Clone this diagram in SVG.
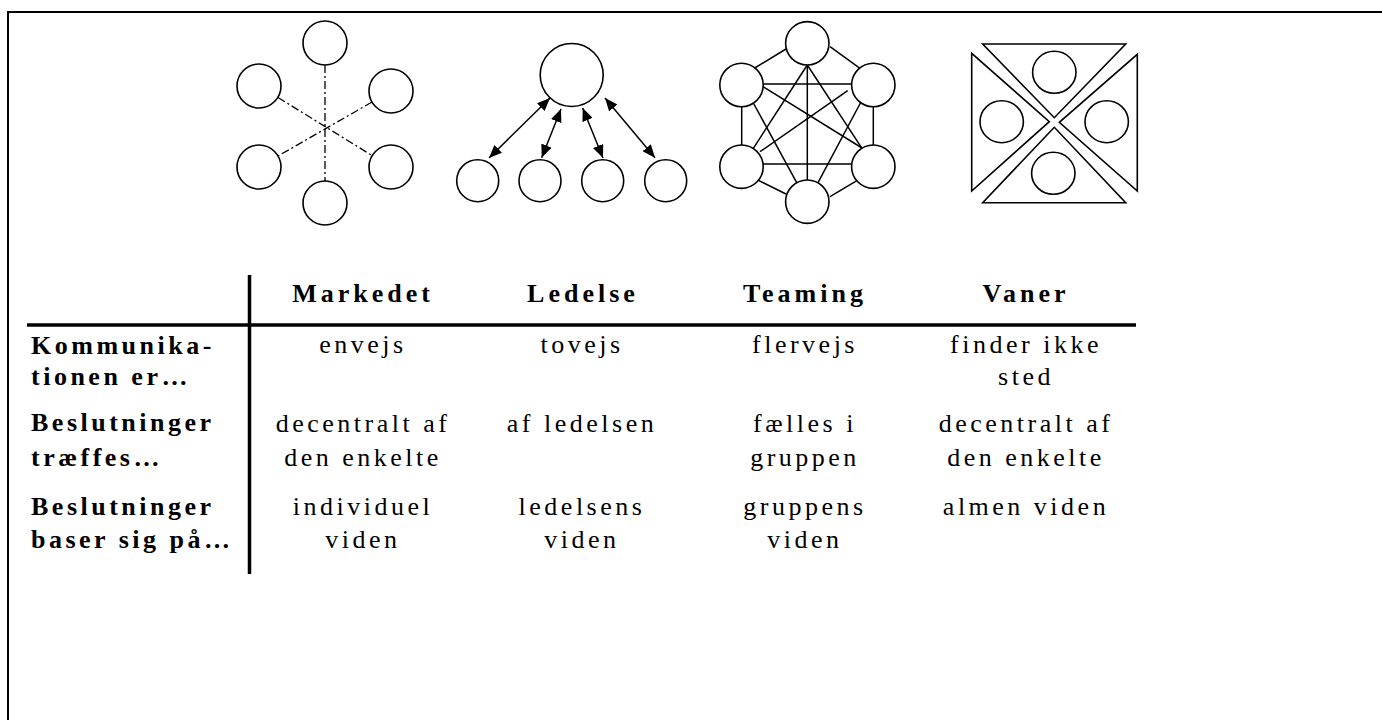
<svg xmlns="http://www.w3.org/2000/svg" width="1382" height="720" viewBox="0 0 1382 720">
  <style>
    .frame { fill: none; stroke: #000; stroke-width: 2; }
    .node { fill: #fff; stroke: #000; stroke-width: 1.6; }
    .tri { fill: none; stroke: #000; stroke-width: 1.6; stroke-linejoin: miter; }
    .edge { fill: none; stroke: #000; stroke-width: 1.5; }
    .dashdot { fill: none; stroke: #000; stroke-width: 1.3; stroke-dasharray: 8 3 2 3; }
    .arrow { fill: none; stroke: #000; stroke-width: 1.5; marker-start: url(#head); marker-end: url(#head); }
    .rule { stroke: #000; stroke-width: 3.5; }
    text { font-family: "Liberation Serif", "Times New Roman", serif; font-size: 26px; fill: #000; }
    .head { font-weight: bold; letter-spacing: 4px; text-anchor: middle; }
    .label { font-weight: bold; letter-spacing: 3.5px; }
    .cell { letter-spacing: 3.5px; text-anchor: middle; }
  </style>
  <defs>
    <marker id="head" viewBox="0 0 13 11" refX="13" refY="5.5" markerWidth="13" markerHeight="11" markerUnits="userSpaceOnUse" orient="auto-start-reverse">
      <path d="M0,0 L13,5.5 L0,11 z" fill="#000"/>
    </marker>
  </defs>

  <rect width="1382" height="720" fill="#fff"/>

  <!-- page frame: top and left edges -->
  <path class="frame" d="M8,720 L8,12 L1382,12"/>

  <!-- Markedet: star with dash-dot spokes -->
  <g id="markedet">
    <g id="markedet-connectors">
      <line class="dashdot" x1="325" y1="65" x2="325" y2="181"/>
      <line class="dashdot" x1="278" y1="97.5" x2="372" y2="155.5"/>
      <line class="dashdot" x1="372" y1="102" x2="278" y2="156"/>
    </g>
    <circle id="m-top" class="node" cx="325" cy="43" r="22"/>
    <circle id="m-ul" class="node" cx="259" cy="86" r="22"/>
    <circle id="m-ur" class="node" cx="391" cy="91" r="22"/>
    <circle id="m-ll" class="node" cx="259" cy="167" r="22"/>
    <circle id="m-lr" class="node" cx="391" cy="167" r="22"/>
    <circle id="m-bot" class="node" cx="325" cy="203" r="22"/>
  </g>

  <!-- Ledelse: leader with two-way arrows -->
  <g id="ledelse">
    <circle id="l-top" class="node" cx="571.7" cy="75" r="31.5"/>
    <circle id="l-1" class="node" cx="477.7" cy="180.7" r="21"/>
    <circle id="l-2" class="node" cx="540" cy="180.7" r="21"/>
    <circle id="l-3" class="node" cx="602.7" cy="180.7" r="21"/>
    <circle id="l-4" class="node" cx="665.7" cy="180.7" r="21"/>
    <g id="ledelse-connectors">
      <line class="arrow" x1="550" y1="98" x2="489" y2="158"/>
      <line class="arrow" x1="561" y1="109" x2="541.7" y2="157.7"/>
      <line class="arrow" x1="582.7" y1="108" x2="603" y2="158"/>
      <line class="arrow" x1="605" y1="98" x2="655" y2="157.7"/>
    </g>
  </g>

  <!-- Teaming: everyone connected to everyone -->
  <g id="teaming">
    <g id="teaming-connectors">
      <line class="edge" x1="786" y1="49" x2="753" y2="69"/>
      <line class="edge" x1="830" y1="46.7" x2="860" y2="68.3"/>
      <line class="edge" x1="741.7" y1="106" x2="741.7" y2="146"/>
      <line class="edge" x1="873.3" y1="106" x2="873.3" y2="146"/>
      <line class="edge" x1="753" y1="177.7" x2="786" y2="194"/>
      <line class="edge" x1="862" y1="177.7" x2="830" y2="196.7"/>
      <line class="edge" x1="763" y1="84" x2="851.7" y2="84"/>
      <line class="edge" x1="763" y1="164" x2="851.7" y2="164"/>
      <line class="edge" x1="807.3" y1="65" x2="807.3" y2="180"/>
      <line class="edge" x1="807.3" y1="65" x2="753.3" y2="148.3"/>
      <line class="edge" x1="807.3" y1="65" x2="862" y2="148.3"/>
      <line class="edge" x1="763" y1="86.7" x2="862" y2="148"/>
      <line class="edge" x1="847.7" y1="90.7" x2="760" y2="151.7"/>
      <line class="edge" x1="751.7" y1="100" x2="796.7" y2="182.7"/>
      <line class="edge" x1="862" y1="100" x2="818" y2="182.7"/>
    </g>
    <circle id="t-top" class="node" cx="807.3" cy="43.3" r="21.7"/>
    <circle id="t-ul" class="node" cx="741.5" cy="85" r="21.7"/>
    <circle id="t-ur" class="node" cx="873.3" cy="85" r="21.7"/>
    <circle id="t-ll" class="node" cx="741.5" cy="166.7" r="21.7"/>
    <circle id="t-lr" class="node" cx="873.3" cy="166.7" r="21.7"/>
    <circle id="t-bot" class="node" cx="807.3" cy="201.7" r="21.7"/>
  </g>

  <!-- Vaner: four closed-off triangles -->
  <g id="vaner">
    <g id="v-top">
      <polygon class="tri" points="982.7,44 1125.7,44 1054.3,117.7"/>
      <ellipse class="node" cx="1054.3" cy="72.3" rx="21.7" ry="21"/>
    </g>
    <g id="v-left">
      <polygon class="tri" points="971.7,53.3 971.7,191 1049.3,121.7"/>
      <ellipse class="node" cx="1001.7" cy="121.7" rx="21.7" ry="21"/>
    </g>
    <g id="v-right">
      <polygon class="tri" points="1137.3,54.3 1137.3,191 1059.3,122.3"/>
      <ellipse class="node" cx="1106.7" cy="121.7" rx="21.7" ry="21"/>
    </g>
    <g id="v-bottom">
      <polygon class="tri" points="982.7,202.7 1125.7,202.7 1054.3,127.3"/>
      <ellipse class="node" cx="1053.3" cy="173.3" rx="21.7" ry="21"/>
    </g>
  </g>

  <!-- comparison table -->
  <g id="table">
    <line class="rule" x1="249.5" y1="275" x2="249.5" y2="574"/>
    <line class="rule" x1="27" y1="325" x2="1136" y2="325"/>

    <text class="head" x="363" y="301.5">Markedet</text>
    <text class="head" x="583" y="301.5">Ledelse</text>
    <text class="head" x="805" y="301.5">Teaming</text>
    <text class="head" x="1026" y="301.5">Vaner</text>

    <text class="label" x="31" y="354">Kommunika-</text>
    <text class="label" x="31" y="385">tionen er…</text>
    <text class="label" x="31" y="431">Beslutninger</text>
    <text class="label" x="31" y="466">træffes…</text>
    <text class="label" x="31" y="515">Beslutninger</text>
    <text class="label" x="31" y="548">baser sig på…</text>

    <text class="cell" x="363" y="353">envejs</text>
    <text class="cell" x="582" y="353">tovejs</text>
    <text class="cell" x="805" y="353">flervejs</text>
    <text class="cell" x="1026" y="353">finder ikke</text>
    <text class="cell" x="1026" y="385">sted</text>

    <text class="cell" x="363" y="432">decentralt af</text>
    <text class="cell" x="363" y="466">den enkelte</text>
    <text class="cell" x="582" y="432">af ledelsen</text>
    <text class="cell" x="805" y="432">fælles i</text>
    <text class="cell" x="805" y="466">gruppen</text>
    <text class="cell" x="1026" y="432">decentralt af</text>
    <text class="cell" x="1026" y="466">den enkelte</text>

    <text class="cell" x="363" y="515">individuel</text>
    <text class="cell" x="363" y="548">viden</text>
    <text class="cell" x="582" y="515">ledelsens</text>
    <text class="cell" x="582" y="548">viden</text>
    <text class="cell" x="805" y="515">gruppens</text>
    <text class="cell" x="805" y="548">viden</text>
    <text class="cell" x="1026" y="515">almen viden</text>
  </g>
</svg>
